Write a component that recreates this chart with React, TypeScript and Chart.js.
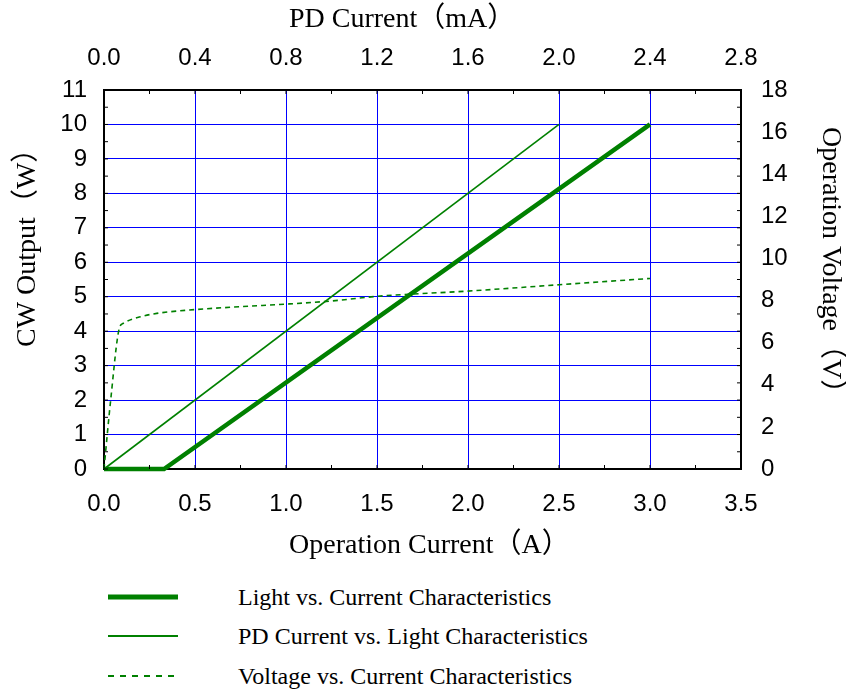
import React, { useEffect, useRef } from "react";
import { Chart, registerables } from "chart.js";

Chart.register(...registerables);

// ---- data ----
const lightCurrentA = [0, 0.33, 3.0];
const lightOutputW = [0, 0, 10];

const pdCurrentMA = [0, 2.0];
const pdOutputW = [0, 10];

const voltCurrentA = [0, 0.037, 0.084, 0.106, 0.2, 0.29, 0.47, 0.75, 1.0, 1.25, 1.5, 2.0, 2.5, 3.0];
const voltageV = [0, 3.3, 6.68, 6.92, 7.23, 7.39, 7.55, 7.71, 7.83, 7.98, 8.2, 8.45, 8.75, 9.05];

const seriesLabels = [
  "Light vs. Current Characteristics",
  "PD Current vs. Light Characteristics",
  "Voltage vs. Current Characteristics",
];

const bottomAxisTitle = "Operation Current（A）";
const topAxisTitle = "PD Current（mA）";
const leftAxisTitle = "CW Output（W）";
const rightAxisTitle = "Operation Voltage（V）";

const bottomRange = [0, 3.5, 0.5];
const topRange = [0, 2.8, 0.4];
const leftRange = [0, 11, 1];
const rightRange = [0, 18, 2];

// ---- styles ----
const GREEN = "#008000";
const GRID = "#0000ff";
const TICK_FONT = { family: "'Liberation Sans', Arial, sans-serif", size: 24 };
const TITLE_FAMILY = "'Liberation Serif', 'Times New Roman', 'Noto Sans CJK SC', serif";
const TITLE_SIZE = 28;

const CANVAS_W = 846;
const CANVAS_H = 565;

const toXY = (xs: number[], ys: number[]) => xs.map((x, i) => ({ x, y: ys[i] }));

const gridColor = (max: number) => (c: any) =>
  c.tick && (c.tick.value === 0 || Math.abs(c.tick.value - max) < 1e-9) ? "rgba(0,0,0,0)" : GRID;

const minorTicks = {
  id: "minorTicks",
  afterDraw(chart: any) {
    const { ctx, chartArea: a, scales } = chart;
    ctx.save();
    ctx.strokeStyle = "#000";
    ctx.lineWidth = 1;
    ctx.beginPath();
    for (let v = leftRange[0]; v <= leftRange[1] + 1e-9; v += leftRange[2] / 2) {
      const y = scales.y.getPixelForValue(v);
      ctx.moveTo(a.left, y);
      ctx.lineTo(a.left + 4, y);
      ctx.moveTo(a.right, y);
      ctx.lineTo(a.right - 4, y);
    }
    for (let v = bottomRange[0]; v <= bottomRange[1] + 1e-9; v += bottomRange[2] / 2) {
      const x = scales.x.getPixelForValue(v);
      ctx.moveTo(x, a.bottom);
      ctx.lineTo(x, a.bottom - 4);
    }
    for (let v = topRange[0]; v <= topRange[1] + 1e-9; v += topRange[2] / 2) {
      const x = scales.x2.getPixelForValue(v);
      ctx.moveTo(x, a.top);
      ctx.lineTo(x, a.top + 4);
    }
    ctx.stroke();
    ctx.restore();
  },
};

// axis titles drawn relative to the chart area (the original centres them off the plot middle)
const axisTitles = {
  id: "axisTitles",
  afterDraw(chart: any) {
    const { ctx, chartArea: a } = chart;
    ctx.save();
    ctx.fillStyle = "#000";
    ctx.font = `${TITLE_SIZE}px ${TITLE_FAMILY}`;
    ctx.textBaseline = "middle";
    ctx.textAlign = "left";
    ctx.fillText(topAxisTitle, a.left + 185, a.top - 70);
    ctx.fillText(bottomAxisTitle, a.left + 185, a.bottom + 77);
    ctx.save();
    ctx.translate(a.left - 76, a.bottom - 122);
    ctx.rotate(-Math.PI / 2);
    ctx.fillText(leftAxisTitle, 0, 0);
    ctx.restore();
    ctx.save();
    ctx.translate(a.right + 89, a.top + 37);
    ctx.rotate(Math.PI / 2);
    ctx.fillText(rightAxisTitle, 0, 0);
    ctx.restore();
    ctx.restore();
  },
};

function Legend() {
  const rows = [
    { label: seriesLabels[0], width: 5, dash: undefined as string | undefined, top: 597 },
    { label: seriesLabels[1], width: 2.2, dash: undefined, top: 636 },
    { label: seriesLabels[2], width: 2, dash: "6 6", top: 676 },
  ];
  return (
    <>
      {rows.map((r, i) => (
        <div key={i} style={{ position: "absolute", left: 0, top: r.top - 15, height: 30, width: 846 }}>
          <svg width={80} height={30} style={{ position: "absolute", left: 100, top: 0 }}>
            <line x1={8} y1={15} x2={78} y2={15} stroke={GREEN} strokeWidth={r.width} strokeDasharray={r.dash} />
          </svg>
          <span
            style={{
              position: "absolute",
              left: 238,
              top: 0,
              lineHeight: "30px",
              fontFamily: "'Liberation Serif', 'Times New Roman', serif",
              fontSize: 24,
              color: "#000",
              whiteSpace: "nowrap",
            }}
          >
            {r.label}
          </span>
        </div>
      ))}
    </>
  );
}

export default function App() {
  const ref = useRef<HTMLCanvasElement | null>(null);

  useEffect(() => {
    if (!ref.current) return;
    const chart = new Chart(ref.current, {
      type: "line",
      data: {
        datasets: [
          {
            label: seriesLabels[0],
            data: toXY(lightCurrentA, lightOutputW),
            xAxisID: "x",
            yAxisID: "y",
            borderColor: GREEN,
            borderWidth: 4.5,
            pointRadius: 0,
            tension: 0,
            clip: false,
          },
          {
            label: seriesLabels[1],
            data: toXY(pdCurrentMA, pdOutputW),
            xAxisID: "x2",
            yAxisID: "y",
            borderColor: GREEN,
            borderWidth: 1.6,
            pointRadius: 0,
            tension: 0,
            clip: false,
          },
          {
            label: seriesLabels[2],
            data: toXY(voltCurrentA, voltageV),
            xAxisID: "x",
            yAxisID: "y2",
            borderColor: GREEN,
            borderWidth: 1.6,
            borderDash: [5, 4],
            pointRadius: 0,
            cubicInterpolationMode: "monotone",
            clip: false,
          },
        ],
      } as any,
      options: {
        animation: false,
        responsive: false,
        layout: { padding: 0 },
        plugins: { legend: { display: false }, tooltip: { enabled: false } },
        scales: {
          x: {
            type: "linear",
            position: "bottom",
            min: bottomRange[0],
            max: bottomRange[1],
            ticks: { stepSize: bottomRange[2], font: TICK_FONT, color: "#000", padding: 21, callback: (v: any) => Number(v).toFixed(1) },
            grid: { color: gridColor(bottomRange[1]), lineWidth: 1, drawTicks: false },
            border: { display: true, color: "#000", width: 2 },
            title: { display: false, text: bottomAxisTitle },
            afterFit: (s: any) => { s.height = CANVAS_H - 469; },
          },
          x2: {
            type: "linear",
            position: "top",
            min: topRange[0],
            max: topRange[1],
            ticks: { stepSize: topRange[2], font: TICK_FONT, color: "#000", padding: 17, callback: (v: any) => Number(v).toFixed(1) },
            grid: { display: false, drawTicks: false },
            border: { display: true, color: "#000", width: 2 },
            title: { display: false, text: topAxisTitle },
            afterFit: (s: any) => { s.height = 90; },
          },
          y: {
            type: "linear",
            position: "left",
            min: leftRange[0],
            max: leftRange[1],
            ticks: { stepSize: leftRange[2], font: TICK_FONT, color: "#000", padding: 17 },
            grid: { color: gridColor(leftRange[1]), lineWidth: 1, drawTicks: false },
            border: { display: true, color: "#000", width: 2 },
            title: { display: false, text: leftAxisTitle },
            afterFit: (s: any) => { s.width = 104; },
          },
          y2: {
            type: "linear",
            position: "right",
            min: rightRange[0],
            max: rightRange[1],
            ticks: { stepSize: rightRange[2], font: TICK_FONT, color: "#000", padding: 20 },
            grid: { display: false, drawTicks: false },
            border: { display: true, color: "#000", width: 2 },
            title: { display: false, text: rightAxisTitle },
            afterFit: (s: any) => { s.width = CANVAS_W - 741; },
          },
        },
      } as any,
      plugins: [minorTicks, axisTitles],
    });
    return () => chart.destroy();
  }, []);

  return (
    <div style={{ position: "fixed", left: 0, top: 0, width: 846, height: 695, background: "#fff" }}>
      <canvas ref={ref} width={CANVAS_W} height={CANVAS_H} style={{ display: "block", width: CANVAS_W, height: CANVAS_H }} />
      <Legend />
    </div>
  );
}
